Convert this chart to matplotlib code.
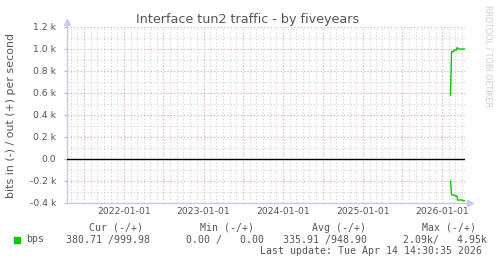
import matplotlib
matplotlib.use("Agg")
import matplotlib.pyplot as plt
import matplotlib.dates as mdates
import numpy as np
from matplotlib.ticker import MultipleLocator, FuncFormatter

# data (bits per second)
out_dates = ["2026-02-07", "2026-02-12", "2026-02-20", "2026-02-21", "2026-03-06",
             "2026-03-08", "2026-03-13", "2026-03-15", "2026-04-14"]
out_bps = [580, 975, 975, 990, 990, 1010, 1010, 1000, 1000]
in_dates = ["2026-02-07", "2026-02-12", "2026-02-26", "2026-02-28", "2026-03-09",
            "2026-03-11", "2026-04-04", "2026-04-06", "2026-04-14"]
in_bps = [200, 327, 327, 336, 336, 373, 373, 380, 380]

legend_cols = ["Cur (-/+)", "Min (-/+)", "Avg (-/+)", "Max (-/+)"]
legend_vals = ["380.71 /999.98", "0.00 /   0.00", "335.91 /948.90", "2.09k/   4.95k"]
last_update = "Last update: Tue Apr 14 14:30:35 2026"

start, end = np.datetime64("2021-04-14T14:30"), np.datetime64("2026-04-14T14:30")

W, H = 497, 264
fig = plt.figure(figsize=(W / 100, H / 100), dpi=100)
fig.patch.set_facecolor("white")
ax = fig.add_axes([67 / W, 1 - 203 / H, (465 - 67) / W, (203 - 27) / H])

od = np.array(out_dates, dtype="datetime64[D]")
idt = np.array(in_dates, dtype="datetime64[D]")
ax.axhline(0, color="black", lw=1, zorder=3)
ax.plot(od, out_bps, color="#00cc00", lw=1, zorder=4)
ax.plot(idt, -np.array(in_bps), color="#00cc00", lw=1, zorder=4)

ax.set_xlim(start, end)
ax.set_ylim(-400, 1200)

# grids like rrdtool: red major, grey minor
ax.xaxis.set_major_locator(mdates.MonthLocator(bymonth=[1, 7]))
ax.xaxis.set_minor_locator(mdates.MonthLocator())
ax.xaxis.set_major_formatter(FuncFormatter(
    lambda v, p: mdates.num2date(v).strftime("%Y-%m-%d") if mdates.num2date(v).month == 1 else ""))
ax.yaxis.set_major_locator(MultipleLocator(200))
ax.yaxis.set_minor_locator(MultipleLocator(100))
ax.yaxis.set_major_formatter(FuncFormatter(lambda v, p: "0.0" if abs(v) < 1e-9 else f"{v/1000:.1f} k"))

ax.grid(which="major", color="#e8a0a0", ls=(0, (1, 2)), lw=0.8)
ax.grid(which="minor", color="#d0d0d0", ls=(0, (1, 2)), lw=0.8)
ax.set_axisbelow(True)
ax.tick_params(which="both", length=0, labelsize=6.7, colors="#555555", pad=3)
ax.tick_params(axis="y", which="major", length=2, color="#e8a0a0", pad=6)

for s in ax.spines.values():
    s.set_visible(False)
axc = "#c8c8f0"
ax.plot([0, 0], [0, 1.04], color=axc, lw=1, transform=ax.transAxes, clip_on=False)
ax.plot([0, 1.012], [0, 0], color=axc, lw=1, transform=ax.transAxes, clip_on=False)
ax.plot([0], [1.03], marker="^", ms=4, color=axc, transform=ax.transAxes, clip_on=False)
ax.plot([1.012], [0], marker=">", ms=4, color=axc, transform=ax.transAxes, clip_on=False)

fig.text(248 / W, 1 - 19 / H, "Interface tun2 traffic - by fiveyears", ha="center", va="center",
         fontsize=9.2, color="#555555")
fig.text(11 / W, 1 - 115 / H, "bits in (-) / out (+) per second", rotation=90, ha="center",
         va="center", fontsize=7.9, color="#555555")
fig.text(488 / W, 1 - 56 / H, "RRDTOOL / TOBI OETIKER", rotation=-90, ha="center", va="center",
         fontsize=5.8, color="#cccccc")

mono = dict(family="DejaVu Sans Mono", fontsize=7.1, color="#555555", va="center")
for xpos, txt in zip([89, 200, 312, 422], legend_cols):
    fig.text(xpos / W, 1 - 228 / H, txt, ha="left", **mono)
for xpos, txt in zip([66, 186, 283, 403], legend_vals):
    fig.text(xpos / W, 1 - 239.5 / H, txt, ha="left", **mono)
fig.text(26 / W, 1 - 239.5 / H, "bps", ha="left", **mono)
fig.text(482 / W, 1 - 251 / H, last_update, ha="right", **mono)
fig.patches.append(plt.Rectangle((14 / W, 1 - 243 / H), 6 / W, 6 / H, color="#00cc00",
                                 transform=fig.transFigure))

fig.savefig("out.png", dpi=100)
